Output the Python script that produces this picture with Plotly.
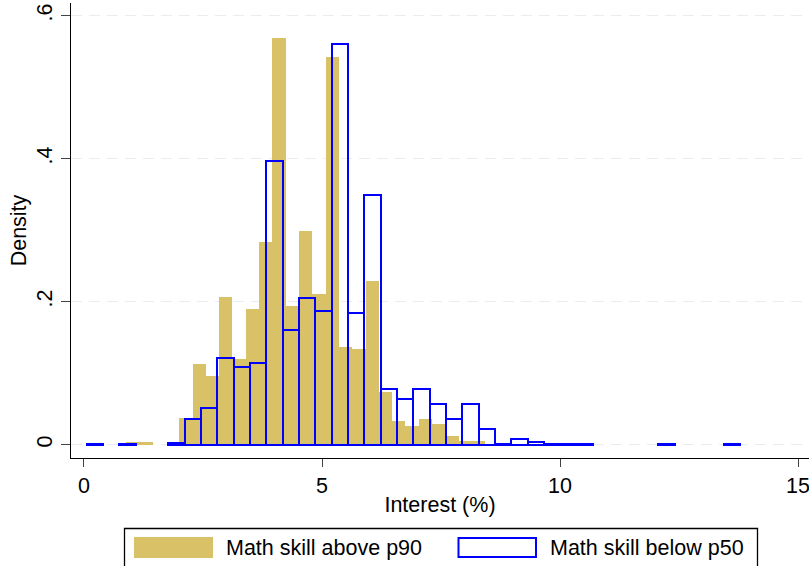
import plotly.graph_objects as go

# ---------------- data ----------------
# Math skill above p90 (filled gold histogram)
gold_bin_start = 0.882
gold_bin_width = 0.2796
gold_density = [0.004, 0.004, None, None, 0.0374, 0.113, 0.096, 0.2066, 0.120, 0.190,
                0.2835, 0.569, 0.194, 0.299, 0.211, 0.542, 0.1367, 0.134, 0.2294,
                0.0741, 0.0336, 0.0266, 0.0364, 0.0294, 0.0126, 0.0056, 0.0056]

# Math skill below p50 (blue outlined histogram)
blue_bin_start = 0.057
blue_bin_width = 0.3431
blue_density = [0.0003, None, 0.0003, None, None, 0.003, 0.0355, 0.0518, 0.1217, 0.108,
                0.1147, 0.397, 0.161, 0.2047, 0.1865, 0.5604, 0.1846, 0.3497, 0.0783,
                0.0643, 0.0775, 0.0573, 0.0355, 0.0569, 0.0224, 0.0015, 0.0075, 0.0035,
                0.0006, 0.0006, 0.0006, None, None, None, None, 0.0003, None, None,
                None, 0.0003]

x_ticks = [0, 5, 10, 15]
y_ticks = [0, 0.2, 0.4, 0.6]
y_tick_labels = ["0", ".2", ".4", ".6"]
series_names = ["Math skill above p90", "Math skill below p50"]

GOLD = "rgb(217,193,103)"
BLUE = "rgb(0,0,255)"
FONT = "Liberation Sans, Arial, sans-serif"
FS = 21.5

gold_x = [gold_bin_start + gold_bin_width * (i + 0.5) for i in range(len(gold_density))]
blue_x = [blue_bin_start + blue_bin_width * (i + 0.5) for i in range(len(blue_density))]

fig = go.Figure()
fig.add_trace(go.Bar(
    x=gold_x, y=gold_density, width=gold_bin_width, name=series_names[0],
    marker=dict(color=GOLD, line=dict(width=0)), showlegend=False,
))
fig.add_trace(go.Bar(
    x=blue_x, y=blue_density, width=blue_bin_width, name=series_names[1],
    marker=dict(color="rgba(0,0,0,0)", line=dict(color=BLUE, width=2)), showlegend=False,
))

W, H = 809, 566
ml, mr, mt, mb = 71, 0, 3, 108

fig.update_layout(
    width=W, height=H,
    margin=dict(l=ml, r=mr, t=mt, b=mb, pad=0),
    paper_bgcolor="white", plot_bgcolor="white",
    barmode="overlay", bargap=0,
    font=dict(family=FONT, size=FS, color="black"),
    showlegend=False,
)

fig.update_xaxes(
    range=[-0.273, 15.231], tickvals=x_ticks, ticktext=[str(v) for v in x_ticks],
    showgrid=False, zeroline=False,
    showline=True, linecolor="black", linewidth=1,
    ticks="outside", ticklen=8, tickcolor="#444", tickwidth=1,
    tickfont=dict(size=FS, family=FONT), ticklabeloverflow="allow",
    title=dict(text="Interest (%)", font=dict(size=FS, family=FONT), standoff=0),
    automargin=False,
)
fig.update_yaxes(
    range=[-0.0186, 0.6178], tickvals=y_ticks, ticktext=y_tick_labels, tickangle=-90,
    showgrid=True, gridcolor="rgb(232,238,240)", gridwidth=1, griddash="11px,7px",
    zeroline=False,
    showline=True, linecolor="black", linewidth=1,
    ticks="outside", ticklen=9, tickcolor="#444", tickwidth=1,
    tickfont=dict(size=FS, family=FONT),
    title=dict(text="Density", font=dict(size=FS, family=FONT), standoff=0),
    automargin=False,
)

# manual legend (paper coordinates)
pw, ph = W - ml - mr, H - mt - mb
def px(xp):
    return (xp - ml) / pw
def py(yp):
    return (H - mb - yp) / ph

shapes = [
    dict(type="rect", xref="paper", yref="paper", x0=px(124.5), x1=px(757.5), y0=py(590), y1=py(528.5),
         line=dict(color="black", width=1.3), fillcolor="white", layer="above"),
    dict(type="rect", xref="paper", yref="paper", x0=px(134), x1=px(213), y0=py(558), y1=py(537),
         line=dict(width=0), fillcolor=GOLD, layer="above"),
    dict(type="rect", xref="paper", yref="paper", x0=px(458.5), x1=px(536), y0=py(557), y1=py(538),
         line=dict(color=BLUE, width=2), fillcolor="white", layer="above"),
]
annotations = [
    dict(xref="paper", yref="paper", x=px(224), y=py(547.5), xanchor="left", yanchor="middle",
         text=series_names[0], showarrow=False, font=dict(size=FS, family=FONT, color="black")),
    dict(xref="paper", yref="paper", x=px(548), y=py(547.5), xanchor="left", yanchor="middle",
         text=series_names[1], showarrow=False, font=dict(size=FS, family=FONT, color="black")),
]
fig.update_layout(shapes=shapes, annotations=annotations)

fig.write_html("out.html", config={"displayModeBar": False},
               post_script="document.body.style.margin='0px';")
